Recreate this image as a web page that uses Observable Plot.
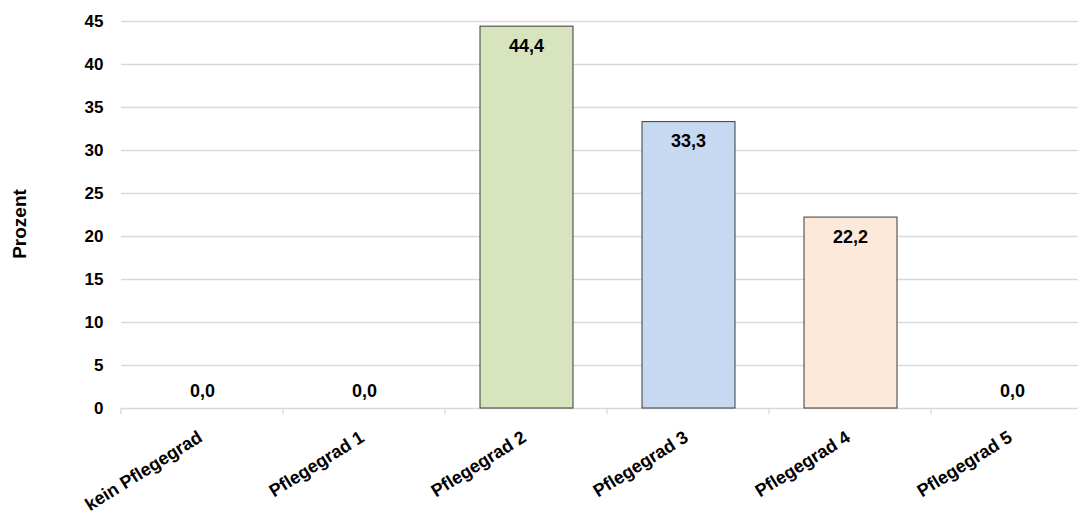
<!DOCTYPE html>
<html>
<head>
<meta charset="utf-8">
<script src="https://cdn.jsdelivr.net/npm/d3@7"></script>
<script src="https://cdn.jsdelivr.net/npm/@observablehq/plot@0.6"></script>
<style>
  html, body { margin: 0; padding: 0; background: #fff; overflow: hidden; }
  svg { font-family: "Liberation Sans", Arial, sans-serif; }
</style>
</head>
<body>
<div id="chart"></div>
<script>
const categories = ["kein Pflegegrad", "Pflegegrad 1", "Pflegegrad 2", "Pflegegrad 3", "Pflegegrad 4", "Pflegegrad 5"];
const values = [0.0, 0.0, 44.4, 33.3, 22.2, 0.0];
const colors = ["#d7e4bd", "#d7e4bd", "#d7e4bd", "#c6d9f1", "#fde9d9", "#d7e4bd"];
const yTicks = [0, 5, 10, 15, 20, 25, 30, 35, 40, 45];
const yLabel = "Prozent";

const data = categories.map((c, i) => ({cat: c, value: values[i], color: colors[i]}));
const fmt = v => v.toFixed(1).replace(".", ",");

const boundaryTicks = (index, scales) => {
  const g = d3.create("svg:g");
  const x = scales.x, y = scales.y;
  const step = x.step ? x.step() : (x.bandwidth ? x.bandwidth() : 162);
  const y0 = y(0);
  const pts = categories.map(c => x(c)).concat([x(categories[categories.length - 1]) + step]);
  for (const px of pts) {
    g.append("line").attr("x1", px).attr("x2", px).attr("y1", y0).attr("y2", y0 + 6)
      .attr("stroke", "#d9d9d9").attr("stroke-width", 1.3);
  }
  return g.node();
};

const chart = Plot.plot({
  width: 1078,
  height: 515,
  marginTop: 21,
  marginBottom: 107,
  marginLeft: 121,
  marginRight: 0,
  style: {fontFamily: "Liberation Sans, Arial, sans-serif", background: "#fff"},
  x: {domain: categories, range: [121, 1093], padding: 0, label: null, axis: null},
  y: {domain: [0, 45], label: null, axis: null},
  marks: [
    Plot.ruleY(yTicks, {stroke: "#d9d9d9", strokeWidth: 1.3}),
    boundaryTicks,
    Plot.barY(data.filter(d => d.value > 0), {
      x: "cat", y: "value", fill: "color", stroke: "#3a3a3a", strokeWidth: 1,
      insetLeft: 35, insetRight: 34
    }),
    Plot.text(data.filter(d => d.value > 0), {
      x: "cat", y: "value", text: d => fmt(d.value), dy: 19.5,
      fontSize: 18, fontWeight: "bold", fill: "#000"
    }),
    Plot.text(data.filter(d => d.value === 0), {
      x: "cat", y: "value", text: d => fmt(d.value), dy: -17,
      fontSize: 18, fontWeight: "bold", fill: "#000"
    }),
    Plot.text(yTicks, {
      y: d => d, text: d => String(d), frameAnchor: "left",
      textAnchor: "end", dx: -18, fontSize: 17, fontWeight: "bold", fill: "#000"
    }),
    Plot.text(categories, {
      x: d => d, y: () => 0, text: d => d, rotate: -32, textAnchor: "end",
      dx: -2, dy: 27, fontSize: 18, fontWeight: "bold", fill: "#000"
    }),
    Plot.text([yLabel], {
      frameAnchor: "left", textAnchor: "middle", dx: -102, dy: 9, rotate: -90,
      fontSize: 19, fontWeight: "bold", fill: "#000", text: d => d
    })
  ]
});
document.getElementById("chart").appendChild(chart);
</script>
</body>
</html>
